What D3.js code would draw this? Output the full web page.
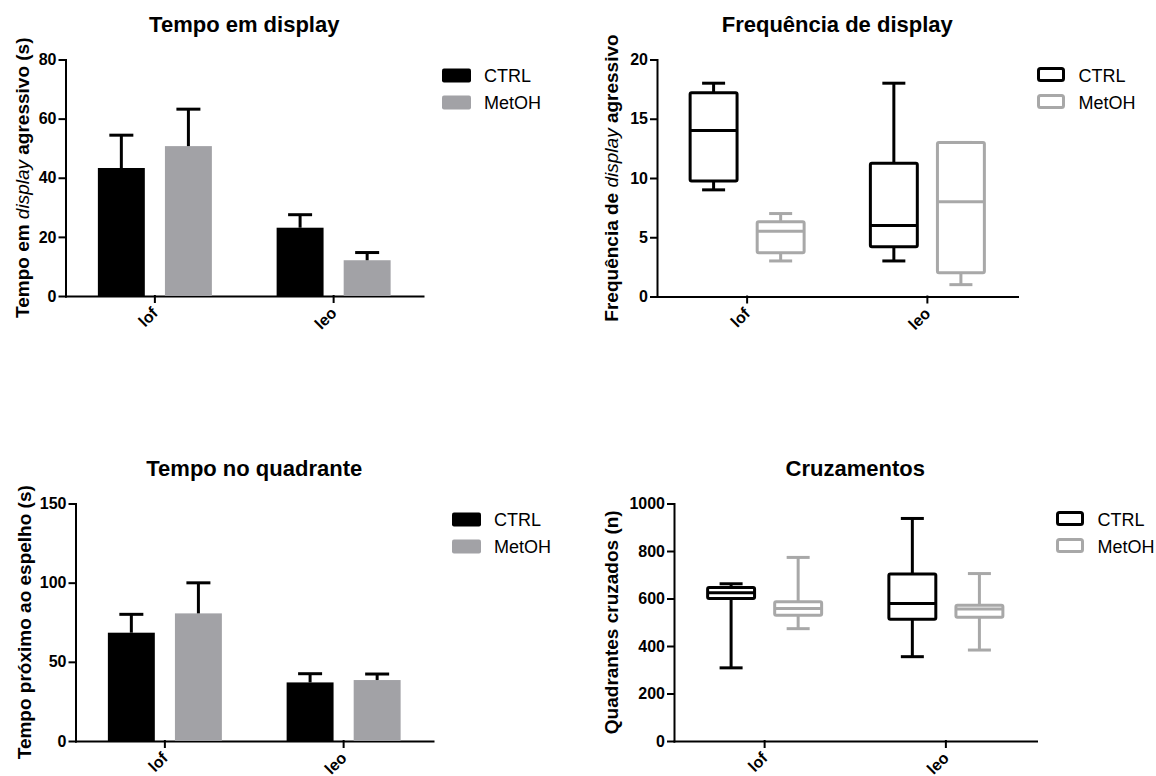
<!DOCTYPE html>
<html lang="pt">
<head>
<meta charset="UTF-8">
<title>Display e cruzamentos</title>
<style>
  body { margin: 0; background: #fff; }
  svg text { font-family: "Liberation Sans", Arial, sans-serif; fill: #000; }
  .axis path, .axis line { stroke: #000; stroke-width: 2px; stroke-linecap: square; }
  .axis text { font-size: 16px; font-weight: bold; }
  .xlab { font-size: 16px; font-weight: bold; }
  .title { font-size: 22px; font-weight: bold; }
  .ylabel { font-size: 19px; font-weight: bold; }
  .legend text { font-size: 18px; }
</style>
</head>
<body>
<script src="https://d3js.org/d3.v7.min.js"></script>
<script>
const groups = ["lof", "leo"];
const seriesNames = ["CTRL", "MetOH"];

// Tempo em display: mean and SEM
const displayMeanCTRL = [43.3, 23.1];
const displaySemCTRL = [11.1, 4.4];
const displayMeanMetOH = [50.7, 12.1];
const displaySemMetOH = [12.5, 2.6];

// Tempo no quadrante: mean and SEM
const quadMeanCTRL = [68.4, 37.0];
const quadSemCTRL = [11.6, 5.5];
const quadMeanMetOH = [80.6, 38.5];
const quadSemMetOH = [19.3, 3.8];

// box plots: [min, q1, median, q3, max] per group
const freqCTRL = [[9, 9.75, 14, 17.2, 18], [3, 4.2, 6, 11.25, 18]];
const freqMetOH = [[3, 3.7, 5.5, 6.3, 7], [1, 2, 8, 13, 13]];
const cruzCTRL = [[308, 600, 624, 646, 662], [355, 513, 579, 703, 937]];
const cruzMetOH = [[473, 530, 558, 586, 773], [383, 521, 556, 572, 705]];

const displayTicks = [0, 20, 40, 60, 80];
const freqTicks = [0, 5, 10, 15, 20];
const quadTicks = [0, 50, 100, 150];
const cruzTicks = [0, 200, 400, 600, 800, 1000];

const colors = {CTRL: "#000000", MetOH: "#a2a2a6"};
const boxColors = {CTRL: "#000000", MetOH: "#a8a8a8"};

const svg = d3.select("body").append("svg")
    .attr("width", 1156)
    .attr("height", 776);

function frame(p) {
    const g = svg.append("g");
    const x = d3.scaleBand().domain(groups).range([p.x0, p.x1]);
    const bw = x.bandwidth();
    const xs = d3.scaleBand().domain(seriesNames)
        .range([bw / 2 - 57, bw / 2 + 57])
        .paddingInner(0.3);
    const y = d3.scaleLinear().domain([0, d3.max(p.ticks)]).range([p.bottom, p.top]);

    g.append("g").attr("class", "axis")
        .attr("transform", `translate(${p.x0},0)`)
        .call(d3.axisLeft(y).tickValues(p.ticks).tickFormat(d3.format("d"))
            .tickSize(6).tickSizeOuter(0).tickPadding(3));
    g.append("g").attr("class", "axis")
        .attr("transform", `translate(0,${p.bottom})`)
        .call(d3.axisBottom(x).tickSize(6).tickSizeOuter(0).tickFormat(""));

    // rotated category labels
    g.selectAll(".xlab")
        .data(groups)
        .join("text")
        .attr("class", "xlab")
        .attr("text-anchor", "end")
        .attr("transform", d => `translate(${x(d) + bw / 2},${p.bottom + 14}) rotate(-45)`)
        .attr("dy", "0.35em")
        .text(d => d);

    g.append("text")
        .attr("class", "title")
        .attr("x", (p.x0 + p.x1) / 2)
        .attr("y", p.top - 28)
        .attr("text-anchor", "middle")
        .text(p.title);

    const yl = g.append("text")
        .attr("class", "ylabel")
        .attr("text-anchor", "middle")
        .attr("transform", `translate(${p.labelX},${(p.top + p.bottom) / 2}) rotate(-90)`)
        .attr("dy", "0.35em");
    yl.selectAll("tspan")
        .data(p.label)
        .join("tspan")
        .style("font-style", d => d[1] ? "italic" : "normal")
        .style("font-weight", d => d[1] ? "normal" : "bold")
        .text(d => d[0]);

    return {g, x, xs, y};
}

function legend(g, p, filled) {
    const lg = g.append("g").attr("class", "legend");
    seriesNames.forEach((s, i) => {
        const sy = p.top + 9 + i * 27;
        lg.append("rect")
            .attr("x", p.x1 + (filled ? 19 : 21))
            .attr("y", sy)
            .attr("width", filled ? 29 : 25)
            .attr("height", filled ? 14 : 12)
            .attr("rx", 2)
            .attr("fill", filled ? colors[s] : "none")
            .attr("stroke", filled ? "none" : boxColors[s])
            .attr("stroke-width", filled ? 0 : 3);
        lg.append("text")
            .attr("x", p.x1 + 61)
            .attr("y", sy + 13.5)
            .text(s);
    });
}

function barPanel(p, means, sems) {
    const {g, x, xs, y} = frame(p);
    seriesNames.forEach((s, si) => {
        const rows = groups.map((grp, i) => ({grp, mean: means[si][i], sem: sems[si][i]}));
        g.selectAll(null)
            .data(rows)
            .join("rect")
            .attr("x", d => x(d.grp) + xs(s))
            .attr("y", d => y(d.mean))
            .attr("width", xs.bandwidth())
            .attr("height", d => y(0) - y(d.mean))
            .attr("fill", colors[s]);
        const cx = d => x(d.grp) + xs(s) + xs.bandwidth() / 2;
        // error bars (upper only)
        g.selectAll(null)
            .data(rows)
            .join("line")
            .attr("x1", cx).attr("x2", cx)
            .attr("y1", d => y(d.mean))
            .attr("y2", d => y(d.mean + d.sem))
            .attr("stroke", "#000").attr("stroke-width", 3);
        g.selectAll(null)
            .data(rows)
            .join("line")
            .attr("x1", d => cx(d) - 12).attr("x2", d => cx(d) + 12)
            .attr("y1", d => y(d.mean + d.sem))
            .attr("y2", d => y(d.mean + d.sem))
            .attr("stroke", "#000").attr("stroke-width", 3);
    });
    legend(g, p, true);
}

function boxPanel(p, stats) {
    const {g, x, xs, y} = frame(p);
    seriesNames.forEach((s, si) => {
        const rows = groups.map((grp, i) => ({grp, v: stats[si][i]}));
        const cx = d => x(d.grp) + xs(s) + xs.bandwidth() / 2;
        const bg = g.selectAll(null)
            .data(rows)
            .join("g")
            .attr("stroke", boxColors[s])
            .attr("stroke-width", 3)
            .attr("fill", "none");
        // whiskers
        bg.append("line")
            .attr("x1", cx).attr("x2", cx)
            .attr("y1", d => y(d.v[3])).attr("y2", d => y(d.v[4]));
        bg.append("line")
            .attr("x1", cx).attr("x2", cx)
            .attr("y1", d => y(d.v[1])).attr("y2", d => y(d.v[0]));
        bg.append("line")
            .attr("x1", d => cx(d) - 11.5).attr("x2", d => cx(d) + 11.5)
            .attr("y1", d => y(d.v[4])).attr("y2", d => y(d.v[4]));
        bg.append("line")
            .attr("x1", d => cx(d) - 11.5).attr("x2", d => cx(d) + 11.5)
            .attr("y1", d => y(d.v[0])).attr("y2", d => y(d.v[0]));
        // box + median
        bg.append("rect")
            .attr("x", d => x(d.grp) + xs(s))
            .attr("y", d => y(d.v[3]))
            .attr("width", xs.bandwidth())
            .attr("height", d => y(d.v[1]) - y(d.v[3]))
            .attr("rx", 1.5)
            .attr("fill", "#fff");
        bg.append("line")
            .attr("x1", d => x(d.grp) + xs(s)).attr("x2", d => x(d.grp) + xs(s) + xs.bandwidth())
            .attr("y1", d => y(d.v[2])).attr("y2", d => y(d.v[2]));
    });
    legend(g, p, false);
}

barPanel({
    x0: 65.5, x1: 423, top: 59.5, bottom: 296, labelX: 22,
    ticks: displayTicks, title: "Tempo em display",
    label: [["Tempo em ", false], ["display", true], [" agressivo (s)", false]]
}, [displayMeanCTRL, displayMeanMetOH], [displaySemCTRL, displaySemMetOH]);

boxPanel({
    x0: 657, x1: 1017.5, top: 59.5, bottom: 296.5, labelX: 611.5,
    ticks: freqTicks, title: "Frequência de display",
    label: [["Frequência de ", false], ["display", true], [" agressivo", false]]
}, [freqCTRL, freqMetOH]);

barPanel({
    x0: 75.5, x1: 433, top: 503.5, bottom: 741, labelX: 24,
    ticks: quadTicks, title: "Tempo no quadrante",
    label: [["Tempo próximo ao espelho (s)", false]]
}, [quadMeanCTRL, quadMeanMetOH], [quadSemCTRL, quadSemMetOH]);

boxPanel({
    x0: 674, x1: 1036.5, top: 503.5, bottom: 741, labelX: 611,
    ticks: cruzTicks, title: "Cruzamentos",
    label: [["Quadrantes cruzados (n)", false]]
}, [cruzCTRL, cruzMetOH]);
</script>
</body>
</html>
